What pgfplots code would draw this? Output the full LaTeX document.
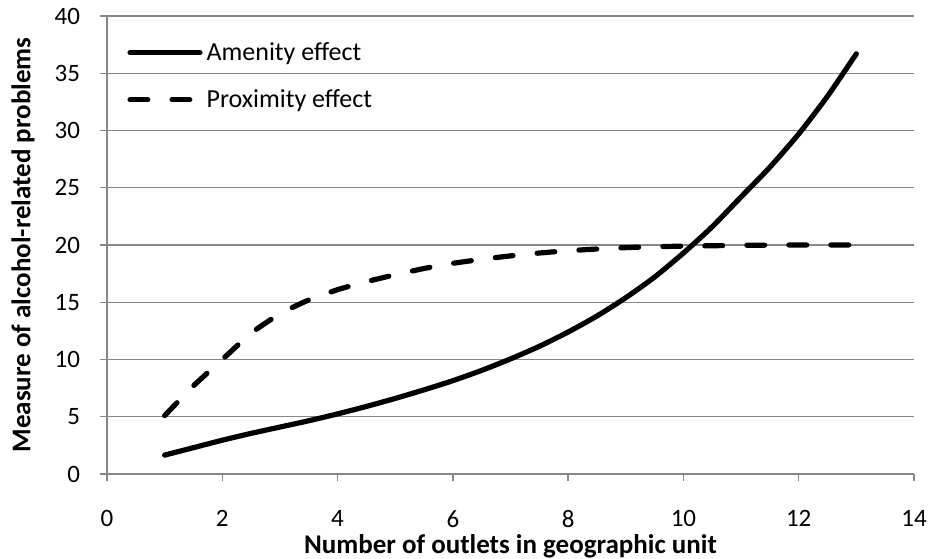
\documentclass[border=0pt]{standalone}
\usepackage{fontspec}
\setmainfont{Carlito}
\usepackage{pgfplots}
\pgfplotsset{compat=1.18}
\definecolor{gridgray}{HTML}{878787}

\begin{document}
\begin{tikzpicture}
  \begin{axis}[
      scale only axis,
      width  = 403.5pt,
      height = 229pt,
      xmin = 0, xmax = 14,
      ymin = 0, ymax = 40,
      xtick = {0,2,...,14},
      ytick = {0,5,...,40},
      axis x line* = bottom,
      axis y line* = left,
      axis line style = {gridgray, line width=0.7pt},
      ymajorgrids,
      grid style = {gridgray, line width=0.7pt},
      tick align = outside,
      major tick length = 3.5pt,
      tick style = {gridgray, line width=0.7pt},
      /pgf/number format/assume math mode=true,
      every tick label/.append style = {font=\fontsize{12.5}{14}\selectfont, text=black},
      xticklabel style = {inner sep=0pt, yshift=-14.5pt},
      yticklabel style = {xshift=-6.5pt},
      xlabel = {Number of outlets in geographic unit},
      ylabel = {Measure of alcohol-related problems},
      xlabel style = {font=\bfseries\fontsize{13.5}{15}\selectfont, inner sep=0pt,
        at={(axis description cs:0.5,0)}, anchor=base, yshift=-39.5pt},
      ylabel style = {font=\bfseries\fontsize{13.5}{15}\selectfont, inner sep=0pt,
        at={(axis description cs:-0.104,0.5)}, anchor=center},
      legend style = {draw=none, fill=none,
        at={(axis description cs:0.0248,0.952)}, anchor=north west,
        font=\fontsize{13}{15}\selectfont,
        row sep=9pt, inner sep=0pt},
      legend cell align = left,
      legend image code/.code = {\draw[#1] (0pt,0pt) -- (35pt,0pt);},
    ]
    \addplot[black, line width=2.6pt, line cap=round, smooth, tension=0.4] coordinates {
      (1,1.65) (1.5,2.3) (2,2.95) (2.5,3.55) (3,4.1) (3.5,4.65) (4,5.25)
      (4.5,5.9) (5,6.6) (5.5,7.35) (6,8.15) (6.5,9.05) (7,10.05) (7.5,11.15)
      (8,12.4) (8.5,13.8) (9,15.4) (9.5,17.2) (10,19.3) (10.5,21.6)
      (11,24.2) (11.5,26.8) (12,29.7) (12.5,33.0) (13,36.7)
    };
    \addlegendentry{Amenity effect}
    \addplot[black, line width=2.6pt, line cap=round, dash pattern=on 8.9pt off 12.1pt,
             smooth, tension=0.3] coordinates {
      (1,5.1) (1.5,7.7) (2,10.0) (2.5,12.3) (3,14.0) (3.5,15.2) (4,16.1)
      (4.5,16.8) (5,17.4) (5.5,17.95) (6,18.4) (6.5,18.75) (7,19.05)
      (7.5,19.3) (8,19.5) (8.5,19.65) (9,19.77) (9.5,19.85) (10,19.9)
      (11,19.97) (12,20) (13,20)
    };
    \addlegendentry{Proximity effect}
  \end{axis}
  \pgfresetboundingbox
  \path[use as bounding box] (current axis.south west) ++(-53.5pt,-42pt)
    rectangle ([xshift=9pt,yshift=8pt]current axis.north east);
\end{tikzpicture}
\end{document}
